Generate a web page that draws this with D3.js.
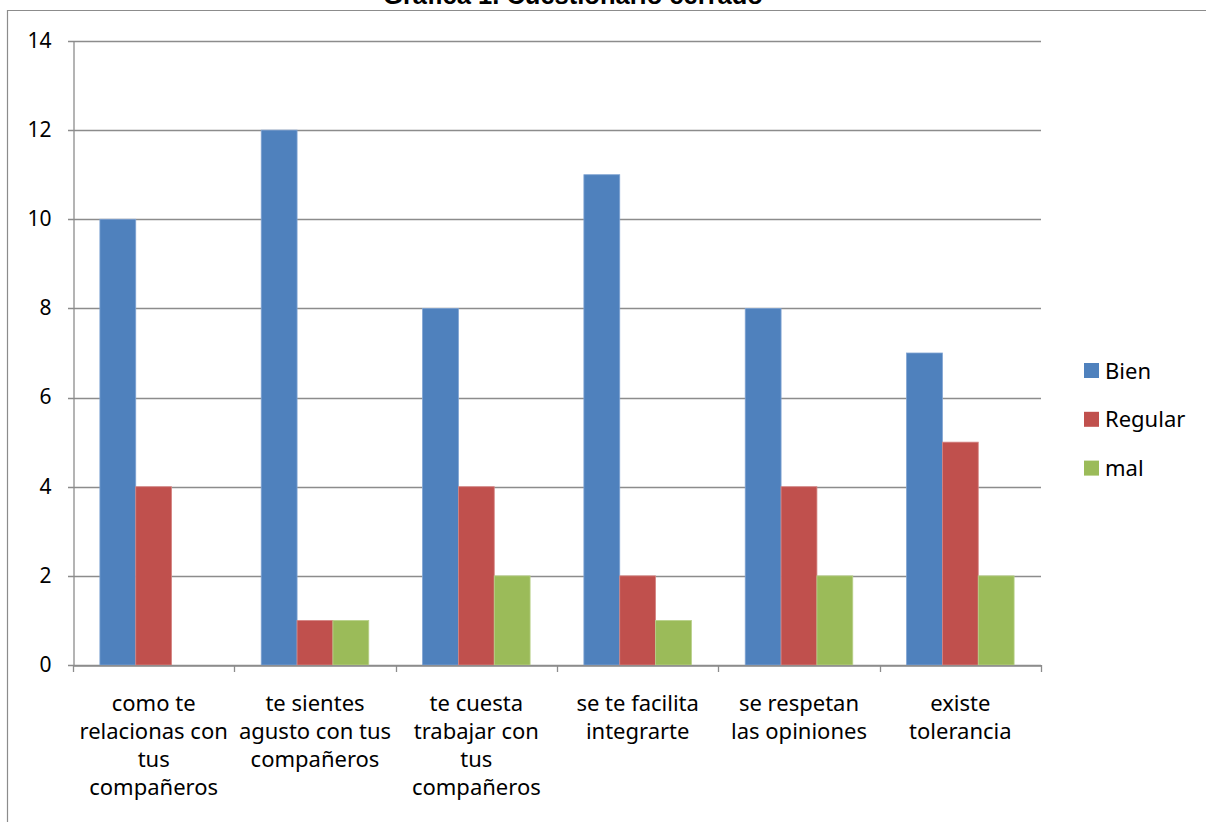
<!DOCTYPE html>
<html><head><meta charset="utf-8">
<script src="https://cdn.jsdelivr.net/npm/d3@7"></script>
<style>body{margin:0;background:#fff;} svg{display:block;}</style>
</head><body>
<svg id="c" width="1206" height="822"></svg>
<script>
const title = "Gráfica 1. Cuestionario cerrado";
const categories = [
  ["como te","relacionas con","tus","compañeros"],
  ["te sientes","agusto con tus","compañeros"],
  ["te cuesta","trabajar con","tus","compañeros"],
  ["se te facilita","integrarte"],
  ["se respetan","las opiniones"],
  ["existe","tolerancia"]
];
const seriesNames = ["Bien","Regular","mal"];
const bien    = [10,12,8,11,8,7];
const regular = [4,1,4,2,4,5];
const mal     = [0,1,2,1,2,2];
const yTicks  = [0,2,4,6,8,10,12,14];
const colors  = ["#4F81BD","#C0504D","#9BBB59"];
const edge    = ["#7FA3D3","#D58583","#B9D08A"];

const series = [bien, regular, mal];
const svg = d3.select("#c");
const font = "'Noto Sans', 'Open Sans', sans-serif";

// outer frame
svg.append("path").attr("d","M7.5,822 V10.5 H1206").attr("fill","none").attr("stroke","#8c8c8c").attr("stroke-width",1.2);

svg.append("text").attr("x",573).attr("y",4).attr("text-anchor","middle")
  .attr("font-family","Arial, 'Liberation Sans', sans-serif").attr("font-weight","bold").attr("font-size",25.5)
  .text(title);

const L=73, R=1041, T=41, B=665;
const x0 = d3.scaleBand().domain(d3.range(categories.length)).range([L,R]).paddingInner(0).paddingOuter(0);
const x1 = d3.scaleBand().domain(d3.range(3)).range([0,x0.bandwidth()]).paddingOuter(0.75).paddingInner(0);
const y = d3.scaleLinear().domain([0,14]).range([B,T]);

// gridlines
const g = svg.append("g");
g.selectAll("line.grid").data(yTicks).join("line")
  .attr("x1",L-5).attr("x2",R).attr("y1",d=>Math.round(y(d))+0.5).attr("y2",d=>Math.round(y(d))+0.5)
  .attr("stroke","#8c8c8c").attr("stroke-width",1.3);

// y axis
const yAxis = d3.axisLeft(y).tickValues(yTicks).tickSize(0).tickPadding(22);
const ya = svg.append("g").attr("transform",`translate(${L+0.5},0)`).call(yAxis);
ya.select(".domain").attr("stroke","#8c8c8c").attr("stroke-width",1.3);
ya.selectAll("text").attr("font-family",font).attr("font-size",21).attr("fill","#000").attr("dy","0.3em");

// bars
series.forEach((s,si)=>{
  svg.append("g").selectAll("rect").data(s).join("rect")
    .attr("x",(d,i)=>x0(i)+x1(si)).attr("width",x1.bandwidth())
    .attr("y",d=>y(d)).attr("height",d=>B-y(d))
    .attr("fill",colors[si]).attr("stroke",d=>d>0?edge[si]:"none").attr("stroke-width",0.8);
});

// x axis
const xAxis = d3.axisBottom(x0).tickSize(0).tickFormat("");
const xa = svg.append("g").attr("transform",`translate(0,${B+0.5})`).call(xAxis);
xa.select(".domain").attr("stroke","#8c8c8c").attr("stroke-width",1.3);
const bounds = d3.range(categories.length+1).map(i=>L+i*x0.bandwidth());
svg.append("g").selectAll("line").data(bounds).join("line")
  .attr("x1",d=>Math.round(d)+0.5).attr("x2",d=>Math.round(d)+0.5).attr("y1",B).attr("y2",B+7)
  .attr("stroke","#8c8c8c").attr("stroke-width",1.3);

// category labels
const labelG = svg.append("g");
categories.forEach((lines,i)=>{
  lines.forEach((ln,j)=>{
    labelG.append("text").attr("text-anchor","middle").attr("font-family",font).attr("font-size",22).attr("fill","#000")
      .attr("x",x0(i)+x0.bandwidth()/2).attr("y",711+j*28).text(ln);
  });
});

// legend
const lg = svg.append("g");
seriesNames.forEach((n,i)=>{
  const cy = 370.5+i*48.8;
  lg.append("rect").attr("x",1084).attr("y",cy-7.5).attr("width",15).attr("height",15).attr("fill",colors[i]);
  lg.append("text").attr("x",1105).attr("y",cy+8).attr("font-family",font).attr("font-size",22).attr("fill","#000").text(n);
});
</script>
</body></html>
